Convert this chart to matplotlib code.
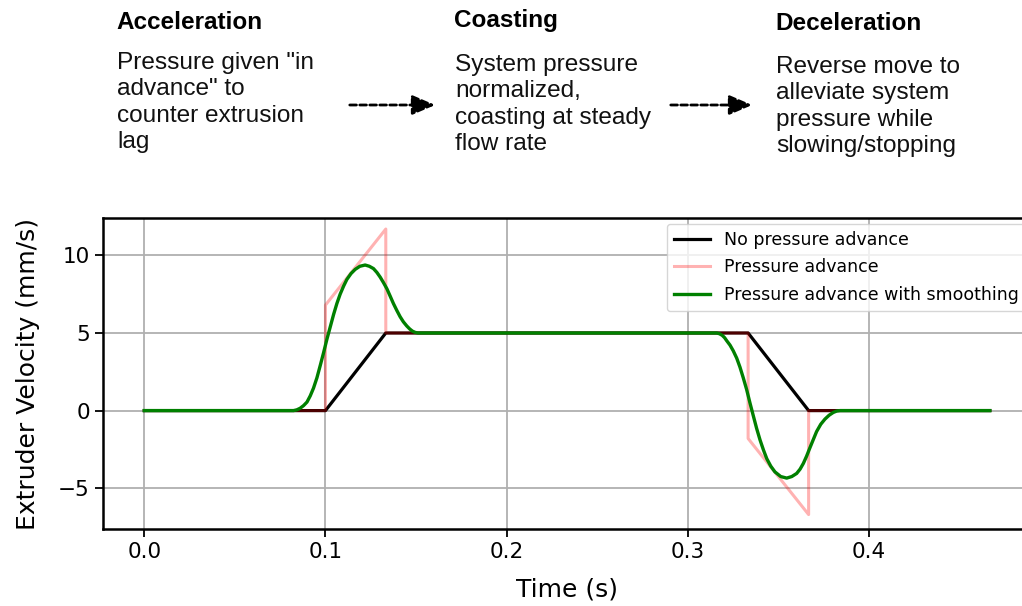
import matplotlib
matplotlib.use('Agg')
import matplotlib.pyplot as plt

# data
t_no_pa = [0.0, 0.1, 0.1333, 0.3333, 0.3667, 0.4667]
v_no_pa = [0, 0, 5, 5, 0, 0]

t_pa = [0.0, 0.1, 0.1, 0.1333, 0.1333, 0.3333, 0.3333, 0.3667, 0.3667, 0.4667]
v_pa = [0, 0, 6.8, 11.7, 5, 5, -1.8, -6.7, 0, 0]

t_smooth = [0.0, 0.0824, 0.0842, 0.086, 0.0879, 0.0898, 0.0916, 0.0934, 0.0953,
            0.0971, 0.099, 0.1008, 0.1027, 0.1045, 0.1063, 0.1081, 0.11,
            0.1118, 0.1141, 0.1164, 0.119, 0.1219, 0.1242, 0.1265, 0.1284,
            0.1302, 0.132, 0.1339, 0.1357, 0.1375, 0.1394, 0.1412, 0.143,
            0.1449, 0.1465, 0.148, 0.1495, 0.151,
            0.316, 0.3175, 0.319, 0.3203, 0.3215, 0.3233, 0.3251, 0.327,
            0.3288, 0.3306, 0.3325, 0.3343, 0.3362, 0.338, 0.3399, 0.3418,
            0.3436, 0.3458, 0.3481, 0.3513, 0.3546, 0.3574, 0.3601, 0.362,
            0.3638, 0.3656, 0.3674, 0.3693, 0.3711, 0.3734, 0.3757, 0.378,
            0.3803, 0.3822, 0.384, 0.4667]
v_smooth = [0, 0, 0.05, 0.15, 0.32, 0.55, 0.95, 1.45, 2.12,
            2.9, 3.75, 4.6, 5.42, 6.2, 6.9, 7.5, 8.02,
            8.45, 8.83, 9.1, 9.3, 9.38, 9.3, 9.15, 8.9,
            8.6, 8.25, 7.85, 7.38, 6.9, 6.45, 6.05, 5.72,
            5.45, 5.26, 5.12, 5.04, 5.0,
            5.0, 4.95, 4.85, 4.7, 4.5, 4.22, 3.85, 3.38,
            2.8, 2.12, 1.35, 0.5, -0.35, -1.15, -1.9, -2.55,
            -3.1, -3.58, -3.95, -4.25, -4.35, -4.25, -4.05, -3.77,
            -3.4, -2.93, -2.4, -1.86, -1.35, -0.88, -0.55, -0.3,
            -0.12, -0.03, 0, 0]

series_labels = ['No pressure advance', 'Pressure advance',
                 'Pressure advance with smoothing']

x_ticks = [0.0, 0.1, 0.2, 0.3, 0.4]
y_ticks = [-5, 0, 5, 10]

phase_titles = ['Acceleration', 'Coasting', 'Deceleration']
phase_lines = [
    ['Pressure given "in', 'advance" to', 'counter extrusion', 'lag'],
    ['System pressure', 'normalized,', 'coasting at steady', 'flow rate'],
    ['Reverse move to', 'alleviate system', 'pressure while', 'slowing/stopping'],
]

W, H = 1022, 606
fig = plt.figure(figsize=(W / 100, H / 100), dpi=100)

# axes box in pixels (the right side runs past the picture edge)
left, right, top, bottom = 103, 1032, 218, 529
ax = fig.add_axes([left / W, 1 - bottom / H, (right - left) / W, (bottom - top) / H])

ax.plot(t_no_pa, v_no_pa, color='black', lw=2.3, label=series_labels[0])
ax.plot(t_pa, v_pa, color='red', alpha=0.3, lw=2.2, label=series_labels[1])
ax.plot(t_smooth, v_smooth, color='green', lw=2.4, label=series_labels[2])

ax.set_xlim(-0.0228, 0.49)
ax.set_ylim(-7.63, 12.41)
ax.set_xticks(x_ticks)
ax.set_yticks(y_ticks)
ax.grid(True, color='#b0b0b0', lw=1.3)
ax.set_axisbelow(True)
ax.tick_params(labelsize=15.5, length=6, width=1.3)
for s in ax.spines.values():
    s.set_linewidth(1.8)
ax.set_xlabel('Time (s)', fontsize=18, labelpad=11)
ax.set_ylabel('Extruder Velocity (mm/s)', fontsize=18, labelpad=13)

ax.legend(loc='upper left', bbox_to_anchor=(667 / W, 1 - 224 / H),
          bbox_transform=fig.transFigure, borderaxespad=0, fontsize=12.5,
          handlelength=2.1, handletextpad=0.8, labelspacing=0.55)

# phase descriptions above the plot
col_x = [116, 454, 775]
title_y = [29, 27, 30]
body_y0 = [69, 71, 73]
line_gap = 26.4
sans = ['Liberation Sans', 'DejaVu Sans']
for i in range(3):
    fig.text(col_x[i] / W, 1 - title_y[i] / H, phase_titles[i], fontsize=17.5,
             fontweight='bold', family=sans, va='baseline', ha='left')
    for j, line in enumerate(phase_lines[i]):
        fig.text((col_x[i] + 1) / W, 1 - (body_y0[i] + j * line_gap) / H, line,
                 fontsize=17.6, family=sans, va='baseline', ha='left', color='#111111')

# dashed arrows between the phases
for x0, x1 in [(347, 438), (668, 755)]:
    fig.add_artist(matplotlib.patches.FancyArrowPatch(
        (x0 / W, 1 - 105 / H), (x1 / W, 1 - 105 / H), transform=fig.transFigure,
        arrowstyle='-|>,head_length=0.7,head_width=0.3', mutation_scale=20,
        color='black', lw=2.0, linestyle=(0, (2.4, 1.2))))

fig.savefig('out.png', dpi=100)
